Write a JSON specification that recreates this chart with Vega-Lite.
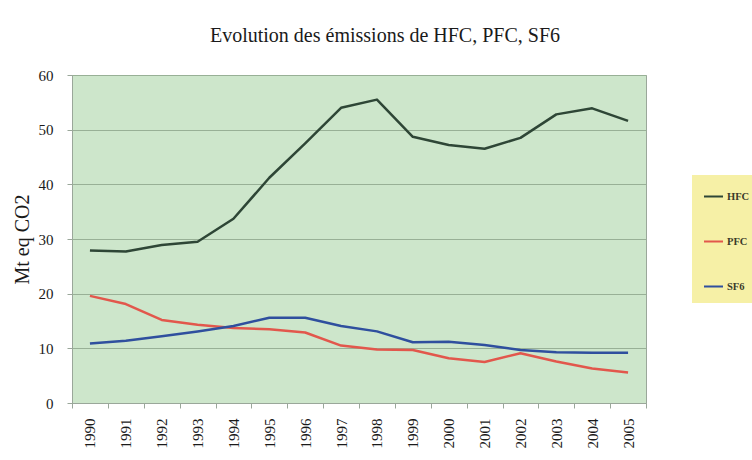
{
  "$schema": "https://vega.github.io/schema/vega-lite/v6.json",
  "width": 574,
  "height": 328,
  "autosize": {"type": "none"},
  "padding": {"left": 72, "top": 75, "right": 106, "bottom": 57},
  "background": "#ffffff",
  "title": {
    "text": "Evolution des émissions de HFC, PFC, SF6",
    "font": "Liberation Serif",
    "fontSize": 20,
    "fontWeight": "normal",
    "color": "#1a1a1a",
    "anchor": "middle",
    "dx": 26,
    "baseline": "alphabetic",
    "offset": 6
  },
  "data": {
    "values": [
      {"year": "1990", "series": "HFC", "value": 27.9},
      {"year": "1991", "series": "HFC", "value": 27.7},
      {"year": "1992", "series": "HFC", "value": 28.9},
      {"year": "1993", "series": "HFC", "value": 29.5},
      {"year": "1994", "series": "HFC", "value": 33.7},
      {"year": "1995", "series": "HFC", "value": 41.2},
      {"year": "1996", "series": "HFC", "value": 47.5},
      {"year": "1997", "series": "HFC", "value": 54.0},
      {"year": "1998", "series": "HFC", "value": 55.5},
      {"year": "1999", "series": "HFC", "value": 48.7},
      {"year": "2000", "series": "HFC", "value": 47.2},
      {"year": "2001", "series": "HFC", "value": 46.5},
      {"year": "2002", "series": "HFC", "value": 48.5},
      {"year": "2003", "series": "HFC", "value": 52.8},
      {"year": "2004", "series": "HFC", "value": 53.9},
      {"year": "2005", "series": "HFC", "value": 51.6},
      {"year": "1990", "series": "PFC", "value": 19.6},
      {"year": "1991", "series": "PFC", "value": 18.1},
      {"year": "1992", "series": "PFC", "value": 15.2},
      {"year": "1993", "series": "PFC", "value": 14.3},
      {"year": "1994", "series": "PFC", "value": 13.7},
      {"year": "1995", "series": "PFC", "value": 13.5},
      {"year": "1996", "series": "PFC", "value": 12.9},
      {"year": "1997", "series": "PFC", "value": 10.5},
      {"year": "1998", "series": "PFC", "value": 9.8},
      {"year": "1999", "series": "PFC", "value": 9.7},
      {"year": "2000", "series": "PFC", "value": 8.2},
      {"year": "2001", "series": "PFC", "value": 7.5},
      {"year": "2002", "series": "PFC", "value": 9.1},
      {"year": "2003", "series": "PFC", "value": 7.6},
      {"year": "2004", "series": "PFC", "value": 6.3},
      {"year": "2005", "series": "PFC", "value": 5.6},
      {"year": "1990", "series": "SF6", "value": 10.9},
      {"year": "1991", "series": "SF6", "value": 11.4},
      {"year": "1992", "series": "SF6", "value": 12.2},
      {"year": "1993", "series": "SF6", "value": 13.1},
      {"year": "1994", "series": "SF6", "value": 14.1},
      {"year": "1995", "series": "SF6", "value": 15.6},
      {"year": "1996", "series": "SF6", "value": 15.6},
      {"year": "1997", "series": "SF6", "value": 14.1},
      {"year": "1998", "series": "SF6", "value": 13.1},
      {"year": "1999", "series": "SF6", "value": 11.1},
      {"year": "2000", "series": "SF6", "value": 11.2},
      {"year": "2001", "series": "SF6", "value": 10.6},
      {"year": "2002", "series": "SF6", "value": 9.7},
      {"year": "2003", "series": "SF6", "value": 9.3},
      {"year": "2004", "series": "SF6", "value": 9.2},
      {"year": "2005", "series": "SF6", "value": 9.2}
    ]
  },
  "mark": {"type": "line", "strokeWidth": 2.5, "strokeJoin": "round"},
  "encoding": {
    "x": {
      "field": "year",
      "type": "ordinal",
      "bandPosition": 0.5,
      "scale": {"type": "band", "paddingInner": 0, "paddingOuter": 0},
      "axis": {
        "title": null,
        "labelAngle": -90,
        "labelAlign": "right",
        "labelBaseline": "middle",
        "labelFont": "Liberation Serif",
        "labelFontSize": 15,
        "labelColor": "#1a1a1a",
        "labelPadding": 10,
        "tickBand": "extent",
        "ticks": true,
        "tickSize": 5,
        "tickColor": "#9aa79a",
        "domainColor": "#9aa79a",
        "grid": false
      }
    },
    "y": {
      "field": "value",
      "type": "quantitative",
      "scale": {"domain": [0, 60], "nice": false},
      "axis": {
        "title": "Mt eq CO2",
        "titleFont": "Liberation Serif",
        "titleFontSize": 20,
        "titleFontWeight": "normal",
        "titleColor": "#1a1a1a",
        "titlePadding": 6,
        "values": [0, 10, 20, 30, 40, 50, 60],
        "labelFont": "Liberation Serif",
        "labelFontSize": 15,
        "labelColor": "#1a1a1a",
        "labelPadding": 14,
        "tickSize": 5,
        "tickColor": "#9aa79a",
        "domainColor": "#9aa79a",
        "grid": true,
        "gridColor": "#98b096",
        "gridWidth": 1
      }
    },
    "color": {
      "field": "series",
      "type": "nominal",
      "scale": {"domain": ["HFC", "PFC", "SF6"], "range": ["#2e4636", "#e2574c", "#2f4f9e"]},
      "legend": {
        "title": null,
        "orient": "none",
        "legendX": 620,
        "legendY": 100,
        "fillColor": "#f6f0a6",
        "padding": 11,
        "symbolType": "stroke",
        "symbolSize": 361,
        "symbolStrokeWidth": 2,
        "rowPadding": 29,
        "labelFont": "Liberation Serif",
        "labelFontSize": 10.5,
        "labelFontWeight": "bold",
        "labelColor": "#3a3a2a",
        "labelOffset": 3
      }
    }
  },
  "config": {
    "font": "Liberation Serif",
    "axis": {"labelFont": "Liberation Serif", "titleFont": "Liberation Serif"},
    "legend": {"labelFont": "Liberation Serif"},
    "view": {"fill": "#cde6cb", "stroke": "#9aa79a", "strokeWidth": 1}
  }
}
